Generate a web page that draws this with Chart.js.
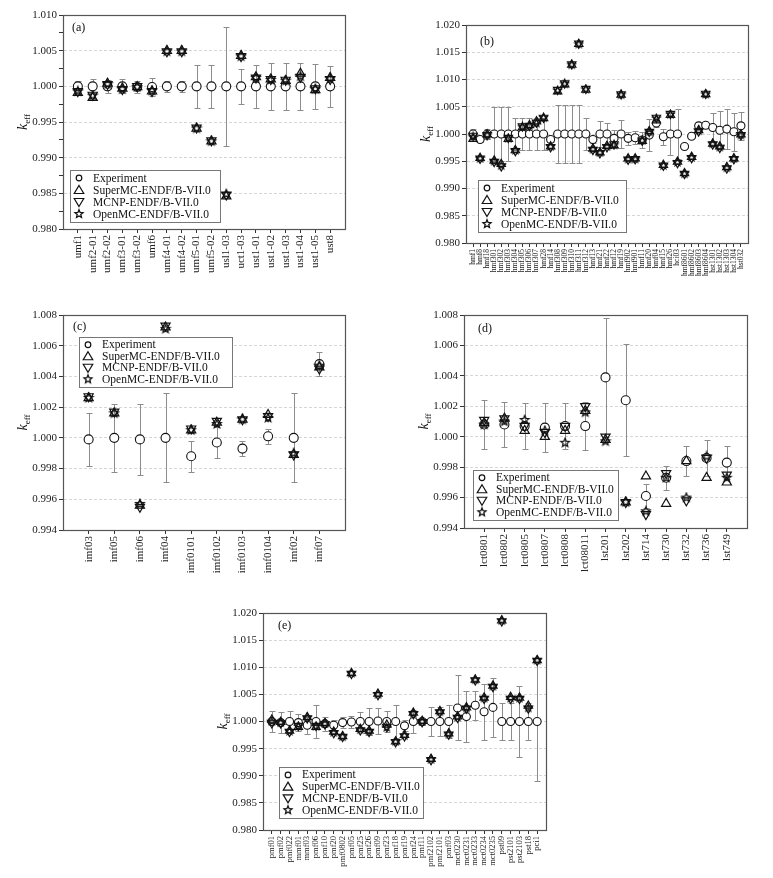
<!DOCTYPE html>
<html lang="en">
<head>
    <meta charset="UTF-8">
    <title>keff benchmark comparison</title>
    <script src="https://cdn.jsdelivr.net/npm/chart.js"></script>
    <style>
        body {
            margin: 0;
            background: #fff;
            width: 773px;
            height: 878px;
            overflow: hidden;
            position: relative;
        }
        canvas {
            position: absolute;
        }
    </style>
</head>
<body>
    <canvas id="pa"></canvas>
    <canvas id="pb"></canvas>
    <canvas id="pc"></canvas>
    <canvas id="pd"></canvas>
    <canvas id="pe"></canvas>

    <script>
        // ---- data ----
        const seriesNames = ['Experiment', 'SuperMC-ENDF/B-VII.0', 'MCNP-ENDF/B-VII.0', 'OpenMC-ENDF/B-VII.0'];

        // (a)
        const aCats = ['umf1','umf2-01','umf2-02','umf3-01','umf3-02','umf6','umf4-01','umf4-02','umf5-01','umf5-02','usl1-03','uct1-03','ust1-01','ust1-02','ust1-03','ust1-04','ust1-05','ust8'];
        const aExp = [1.0000,1.0000,1.0000,1.0000,0.9999,0.9999,1.0000,1.0000,1.0000,1.0000,1.0000,1.0000,1.0000,1.0000,1.0000,1.0000,1.0000,1.0000];
        const aErr = [0.0008,0.0010,0.0009,0.0010,0.0009,0.0013,0.0008,0.0008,0.0030,0.0030,0.0083,0.0025,0.0030,0.0033,0.0033,0.0033,0.0032,0.0029];
        const aSuper = [0.9991,0.9984,1.0004,0.9997,0.9999,0.9993,1.0050,1.0050,0.9941,0.9923,0.9846,1.0043,1.0013,1.0010,1.0008,1.0018,0.9995,1.0012];
        const aMcnp = [0.9993,0.9988,1.0003,0.9996,1.0000,0.9993,1.0049,1.0049,0.9942,0.9924,0.9848,1.0042,1.0012,1.0010,1.0009,1.0013,0.9997,1.0010];
        const aOpen = [0.9993,0.9987,1.0003,0.9996,0.9999,0.9994,1.0049,1.0049,0.9941,0.9923,0.9849,1.0042,1.0012,1.0009,1.0008,1.0014,0.9996,1.0011];

        // (b)
        const bCats = ['hmf1','hmf8','hmf18','hmf301','hmf302','hmf303','hmf304','hmf305','hmf306','hmf307','hmf28','hmf14','hmf308','hmf309','hmf310','hmf311','hmf312','hmf13','hmf21','hmf22','hmf12','hmf19','hmf902','hmf901','hmf11','hmf20','hmf04','hmf15','hmf26','hci03','hmf8601','hmf8602','hmf8603','hmf8604','hst1301','hst1302','hst1303','hst1304','hst032'];
        const bExp = [1.0000,0.9990,1.0000,1.0000,1.0000,1.0000,1.0000,1.0000,1.0000,1.0000,1.0000,0.9990,1.0000,1.0000,1.0000,1.0000,1.0000,0.9990,1.0000,1.0000,0.9992,1.0000,0.9992,0.9993,0.9989,0.9998,1.0020,0.9995,1.0000,1.0000,0.9977,0.9996,1.0015,1.0016,1.0012,1.0007,1.0009,1.0004,1.0015];
        const bErr = [0.0010,0.0005,0.0010,0.0050,0.0050,0.0050,0.0030,0.0030,0.0030,0.0030,0.0030,0.0005,0.0053,0.0053,0.0053,0.0053,0.0030,0.0006,0.0023,0.0020,0.0015,0.0026,0.0012,0.0012,0.0015,0.0030,0.0008,0.0015,0.0038,0.0045,0.0002,0.0004,0.0005,0.0005,0.0026,0.0035,0.0037,0.0035,0.0026];
        const bSuper = [0.9991,0.9956,0.9999,0.9951,0.9945,0.9991,0.9970,1.0012,1.0016,1.0023,1.0029,0.9977,1.0078,1.0091,1.0127,1.0165,1.0081,0.9973,0.9966,0.9978,0.9979,1.0072,0.9955,0.9955,0.9987,1.0005,1.0025,0.9943,1.0035,0.9949,0.9928,0.9958,1.0007,1.0073,0.9982,0.9977,0.9939,0.9955,0.9999];
        const bMcnp = [0.9997,0.9955,0.9998,0.9949,0.9941,0.9993,0.9969,1.0014,1.0015,1.0021,1.0030,0.9976,1.0081,1.0093,1.0128,1.0166,1.0083,0.9971,0.9965,0.9976,0.9981,1.0073,0.9953,0.9954,0.9988,1.0004,1.0030,0.9942,1.0037,0.9947,0.9927,0.9956,1.0005,1.0074,0.9981,0.9975,0.9937,0.9954,0.9998];
        const bOpen = [0.9995,0.9955,0.9998,0.9950,0.9942,0.9992,0.9970,1.0013,1.0015,1.0020,1.0030,0.9977,1.0080,1.0092,1.0127,1.0165,1.0082,0.9972,0.9966,0.9977,0.9980,1.0072,0.9954,0.9954,0.9988,1.0004,1.0029,0.9942,1.0036,0.9948,0.9927,0.9957,1.0006,1.0073,0.9982,0.9976,0.9938,0.9955,0.9998];

        // (c)
        const cCats = ['imf03','imf05','imf06','imf04','imf0101','imf0102','imf0103','imf0104','imf02','imf07'];
        const cExp = [0.9999,1.0000,0.9999,1.0000,0.9988,0.9997,0.9993,1.0001,1.0000,1.0048];
        const cErr = [0.0017,0.0022,0.0023,0.0029,0.0010,0.0010,0.0005,0.0005,0.0029,0.0008];
        const cSuper = [1.0026,1.0016,0.9956,1.0072,1.0005,1.0010,1.0012,1.0015,0.9989,1.0046];
        const cMcnp = [1.0027,1.0017,0.9955,1.0073,1.0006,1.0011,1.0012,1.0014,0.9989,1.0045];
        const cOpen = [1.0026,1.0016,0.9957,1.0071,1.0005,1.0009,1.0012,1.0013,0.9990,1.0047];

        // (d)
        const dCats = ['lct0801','lct0802','lct0805','lct0807','lct0808','lct08011','lst201','lst202','lst714','lst730','lst732','lst736','lst749'];
        const dExp = [1.0008,1.0008,1.0007,1.0006,1.0007,1.0007,1.0039,1.0024,0.9961,0.9973,0.9984,0.9986,0.9983];
        const dErr = [0.0016,0.0015,0.0015,0.0016,0.0015,0.0016,0.0039,0.0037,0.0008,0.0008,0.0010,0.0012,0.0011];
        const dSuper = [1.0009,1.0012,1.0004,1.0000,1.0004,1.0017,0.9998,0.9957,0.9974,0.9956,0.9984,0.9973,0.9970];
        const dMcnp = [1.0011,1.0012,1.0007,1.0003,1.0007,1.0020,1.0000,0.9957,0.9949,0.9976,0.9958,0.9986,0.9975];
        const dOpen = [1.0008,1.0010,1.0011,1.0004,0.9996,1.0016,0.9997,0.9957,0.9951,0.9973,0.9960,0.9987,0.9973];

        // (e)
        const eCats = ['pmf01','pmf02','pmf022','mmf01','mmf03','pmf06','pmf10','pmf20','pmf0802','pmf05','pmf25','pmf26','pmf09','pmf23','pmf18','pmf19','pmf24','pmf11','pmf2102','pmf2101','pmf03','mct0230','mct0231','mct0233','mct0234','mct0235','pst09','pst2101','pst2103','pst18','pci1'];
        const eExp = [1.0000,0.9998,1.0000,0.9998,0.9993,1.0000,0.9996,0.9993,0.9998,0.9999,1.0000,1.0000,1.0001,1.0000,1.0000,0.9992,1.0000,1.0000,1.0000,1.0000,1.0000,1.0025,1.0009,1.0030,1.0018,1.0026,1.0000,1.0000,1.0000,1.0000,1.0000];
        const eErr = [0.0020,0.0020,0.0020,0.0016,0.0016,0.0030,0.0013,0.0010,0.0010,0.0011,0.0018,0.0024,0.0024,0.0020,0.0030,0.0010,0.0022,0.0006,0.0026,0.0026,0.0030,0.0060,0.0047,0.0027,0.0052,0.0055,0.0034,0.0034,0.0065,0.0035,0.0110];
        const eSuper = [1.0003,0.9999,0.9983,0.9990,1.0008,0.9990,0.9997,0.9981,0.9973,1.0089,0.9986,0.9983,1.0051,0.9994,0.9963,0.9975,1.0016,1.0001,0.9931,1.0019,0.9978,1.0009,1.0026,1.0077,1.0044,1.0066,1.0186,1.0045,1.0044,1.0029,1.0113];
        const eMcnp = [0.9997,0.9997,0.9981,0.9992,1.0006,0.9992,0.9995,0.9979,0.9972,1.0088,0.9984,0.9981,1.0049,0.9990,0.9962,0.9973,1.0014,0.9999,0.9929,1.0017,0.9976,1.0007,1.0024,1.0076,1.0042,1.0064,1.0185,1.0042,1.0042,1.0024,1.0112];
        const eOpen = [1.0000,0.9998,0.9982,0.9991,1.0007,0.9991,0.9996,0.9980,0.9972,1.0089,0.9985,0.9982,1.0050,0.9989,0.9963,0.9974,1.0015,1.0000,0.9930,1.0018,0.9977,1.0008,1.0025,1.0077,1.0043,1.0065,1.0186,1.0043,1.0043,1.0025,1.0113];

        // ---- drawing helpers ----
        const FONT = "'Liberation Serif', 'Times New Roman', serif";
        const Y_W = 62, PAD_T = 12, PAD_R = 12;

        function starImg(r) {
            const c = document.createElement('canvas');
            const s = Math.ceil(r * 2 + 3);
            c.width = c.height = s;
            const g = c.getContext('2d');
            g.translate(s / 2, s / 2);
            g.beginPath();
            for (let k = 0; k < 10; k++) {
                const rr = k % 2 ? r * 0.45 : r;
                const a = -Math.PI / 2 + k * Math.PI / 5;
                g.lineTo(rr * Math.cos(a), rr * Math.sin(a));
            }
            g.closePath();
            g.lineWidth = 1.3;
            g.strokeStyle = '#111';
            g.stroke();
            return c;
        }

        function tri(ctx, x, y, r, down) {
            const s = down ? -1 : 1;
            ctx.beginPath();
            ctx.moveTo(x, y - s * r);
            ctx.lineTo(x + r * 0.95, y + s * r * 0.6);
            ctx.lineTo(x - r * 0.95, y + s * r * 0.6);
            ctx.closePath();
            ctx.stroke();
        }

        const errorBars = {
            id: 'errorBars',
            beforeDatasetsDraw(chart, args, o) {
                const { ctx, scales: { x, y } } = chart;
                ctx.save();
                ctx.strokeStyle = '#8c8c8c';
                ctx.lineWidth = 1;
                o.exp.forEach((v, i) => {
                    const px = Math.round(x.getPixelForValue(i)) + 0.5;
                    const t = Math.round(y.getPixelForValue(v + o.err[i])) + 0.5;
                    const b = Math.round(y.getPixelForValue(v - o.err[i])) + 0.5;
                    ctx.beginPath();
                    ctx.moveTo(px, t); ctx.lineTo(px, b);
                    ctx.moveTo(px - 3, t); ctx.lineTo(px + 3, t);
                    ctx.moveTo(px - 3, b); ctx.lineTo(px + 3, b);
                    ctx.stroke();
                });
                ctx.restore();
            }
        };

        const decor = {
            id: 'decor',
            afterDraw(chart, args, o) {
                const { ctx, chartArea: ca } = chart;
                ctx.save();
                // frame
                ctx.strokeStyle = '#555';
                ctx.lineWidth = 1.2;
                ctx.strokeRect(ca.left + 0.5, ca.top + 0.5, ca.right - ca.left, ca.bottom - ca.top);

                // panel letter
                ctx.fillStyle = '#111';
                ctx.font = '12px ' + FONT;
                ctx.textBaseline = 'middle';
                ctx.fillText(o.letter, ca.left + o.letterX, ca.top + o.letterY);

                // y title: k_eff
                ctx.save();
                ctx.translate(ca.left - 36, (ca.top + ca.bottom) / 2);
                ctx.rotate(-Math.PI / 2);
                ctx.font = 'italic 14px ' + FONT;
                const kw = ctx.measureText('k').width;
                ctx.font = '9px ' + FONT;
                const ew = ctx.measureText('eff').width;
                const x0 = -(kw + ew) / 2;
                ctx.textBaseline = 'alphabetic';
                ctx.font = 'italic 14px ' + FONT;
                ctx.fillText('k', x0, 0);
                ctx.font = '9px ' + FONT;
                ctx.fillText('eff', x0 + kw, 3);
                ctx.restore();

                // legend box
                const L = o.legend;
                const bx = ca.left + L.left;
                const by = L.top !== undefined ? ca.top + L.top : ca.bottom - L.bottom - L.h;
                ctx.fillStyle = '#fff';
                ctx.fillRect(bx, by, L.w, L.h);
                ctx.strokeStyle = '#777';
                ctx.lineWidth = 1;
                ctx.strokeRect(bx + 0.5, by + 0.5, L.w, L.h);
                const rowH = (L.h - 4) / 4;
                ctx.font = '11.5px ' + FONT;
                ctx.textBaseline = 'middle';
                seriesNames.forEach((name, i) => {
                    const cy = by + 2 + rowH * (i + 0.5);
                    const mx = bx + 9;
                    ctx.strokeStyle = '#111';
                    ctx.lineWidth = 1.2;
                    if (i === 0) {
                        ctx.beginPath();
                        ctx.arc(mx, cy, 2.8, 0, Math.PI * 2);
                        ctx.stroke();
                    } else if (i === 1) {
                        tri(ctx, mx, cy + 0.5, 5, false);
                    } else if (i === 2) {
                        tri(ctx, mx, cy - 0.5, 5, true);
                    } else {
                        const im = starImg(4.2);
                        ctx.drawImage(im, mx - im.width / 2, cy - im.height / 2);
                    }
                    ctx.fillStyle = '#111';
                    ctx.fillText(name, bx + 23, cy + 0.5);
                });
                ctx.restore();
            }
        };

        function makePanel(id, area, cats, exp, err, sup, mcnp, open, yc, cfg) {
            const cv = document.getElementById(id);
            const w = (area.R - area.L) + Y_W + PAD_R;
            const h = (area.B - area.T) + PAD_T + cfg.xH;
            cv.width = w; cv.height = h;
            cv.style.left = (area.L - Y_W) + 'px';
            cv.style.top = (area.T - PAD_T) + 'px';
            cv.style.width = w + 'px';
            cv.style.height = h + 'px';

            const N = cats.length;
            const pts = arr => arr.map((v, i) => ({ x: i, y: v }));
            const isMajor = v => Math.abs(v / yc.major - Math.round(v / yc.major)) < 1e-6;
            const r = cfg.r;

            new Chart(cv.getContext('2d'), {
                type: 'scatter',
                data: {
                    datasets: [
                        { label: seriesNames[0], data: pts(exp), pointStyle: 'circle', pointRadius: r,
                          backgroundColor: '#fff', borderColor: '#111', borderWidth: 1.1, order: 4 },
                        { label: seriesNames[1], data: pts(sup), pointStyle: 'triangle', pointRadius: r + 0.8,
                          backgroundColor: 'rgba(0,0,0,0)', borderColor: '#111', borderWidth: 1.2, order: 3 },
                        { label: seriesNames[2], data: pts(mcnp), pointStyle: 'triangle', rotation: 180, pointRadius: r + 0.8,
                          backgroundColor: 'rgba(0,0,0,0)', borderColor: '#111', borderWidth: 1.2, order: 2 },
                        { label: seriesNames[3], data: pts(open), pointStyle: starImg(r),
                          borderColor: '#111', order: 1 }
                    ]
                },
                options: {
                    responsive: false,
                    animation: false,
                    events: [],
                    layout: { padding: { top: PAD_T, right: PAD_R, left: 0, bottom: 0 } },
                    scales: {
                        x: {
                            type: 'linear',
                            min: -1,
                            max: N,
                            afterBuildTicks: s => { s.ticks = s.ticks.filter(t => t.value >= 0 && t.value < N); },
                            afterFit: s => { s.height = cfg.xH; },
                            ticks: {
                                stepSize: 1,
                                autoSkip: false,
                                minRotation: 90,
                                maxRotation: 90,
                                padding: 2,
                                color: '#222',
                                font: { family: FONT, size: cfg.xFont },
                                callback: v => cats[v] ?? ''
                            },
                            grid: { drawOnChartArea: false, drawTicks: true, tickLength: 4, tickColor: '#333' },
                            border: { color: '#333' }
                        },
                        y: {
                            type: 'linear',
                            min: yc.min,
                            max: yc.max,
                            afterFit: s => { s.width = Y_W; },
                            ticks: {
                                stepSize: yc.minor,
                                padding: 2,
                                color: '#222',
                                font: { family: FONT, size: 11 },
                                callback: v => isMajor(v) ? v.toFixed(3) : ''
                            },
                            grid: {
                                color: c => (c.tick && isMajor(c.tick.value)) ? '#d6d6d6' : 'rgba(0,0,0,0)',
                                tickColor: '#333',
                                tickLength: 4
                            },
                            border: { color: '#333', dash: [3, 2] }
                        }
                    },
                    plugins: {
                        legend: { display: false },
                        tooltip: { enabled: false },
                        errorBars: { exp: exp, err: err },
                        decor: cfg.decor
                    }
                },
                plugins: [errorBars, decor]
            });
        }

        makePanel('pa', { L: 63, T: 15, R: 345, B: 229 }, aCats, aExp, aErr, aSuper, aMcnp, aOpen,
            { min: 0.980, max: 1.010, major: 0.005, minor: 0.0025 },
            { xH: 45, xFont: 11, r: 4.5,
              decor: { letter: '(a)', letterX: 9, letterY: 13, legend: { left: 7, bottom: 7, w: 150, h: 52 } } });

        makePanel('pb', { L: 466, T: 25, R: 748, B: 243 }, bCats, bExp, bErr, bSuper, bMcnp, bOpen,
            { min: 0.980, max: 1.020, major: 0.005, minor: 0.0025 },
            { xH: 45, xFont: 7.5, r: 4,
              decor: { letter: '(b)', letterX: 14, letterY: 17, legend: { left: 12, bottom: 11, w: 148, h: 52 } } });

        makePanel('pc', { L: 63, T: 315, R: 345, B: 530 }, cCats, cExp, cErr, cSuper, cMcnp, cOpen,
            { min: 0.994, max: 1.008, major: 0.002, minor: 0.001 },
            { xH: 50, xFont: 11, r: 4.5,
              decor: { letter: '(c)', letterX: 10, letterY: 12, legend: { left: 16, top: 22, w: 153, h: 50 } } });

        makePanel('pd', { L: 464, T: 315, R: 747, B: 528 }, dCats, dExp, dErr, dSuper, dMcnp, dOpen,
            { min: 0.994, max: 1.008, major: 0.002, minor: 0.001 },
            { xH: 50, xFont: 11, r: 4.5,
              decor: { letter: '(d)', letterX: 14, letterY: 14, legend: { left: 9, bottom: 8, w: 145, h: 50 } } });

        makePanel('pe', { L: 263, T: 613, R: 546, B: 830 }, eCats, eExp, eErr, eSuper, eMcnp, eOpen,
            { min: 0.980, max: 1.020, major: 0.005, minor: 0.0025 },
            { xH: 48, xFont: 8.5, r: 4,
              decor: { letter: '(e)', letterX: 15, letterY: 13, legend: { left: 16, bottom: 12, w: 144, h: 51 } } });
    </script>
</body>
</html>
